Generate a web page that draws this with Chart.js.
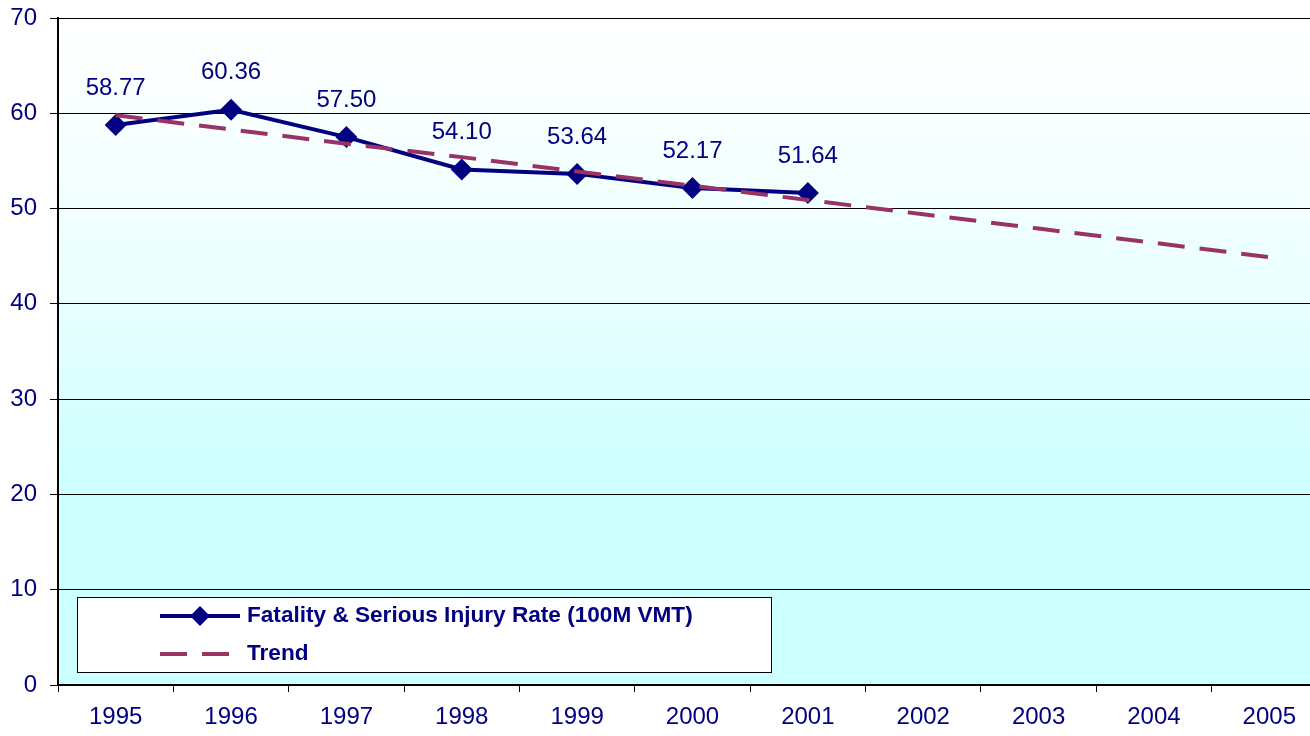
<!DOCTYPE html>
<html>
<head>
<meta charset="utf-8">
<script src="https://cdn.jsdelivr.net/npm/chart.js@4"></script>
<style>
  html, body { margin: 0; padding: 0; background: #ffffff; overflow: hidden; }
  #wrap { width: 1338px; height: 736px; }
</style>
</head>
<body>
<div id="wrap"><canvas id="grafico" width="1338" height="736"></canvas></div>
<script>
// Dados
const anos = ['1995', '1996', '1997', '1998', '1999', '2000', '2001', '2002', '2003', '2004', '2005'];
const taxa = [58.77, 60.36, 57.50, 54.10, 53.64, 52.17, 51.64, null, null, null, null];
const tendencia = [59.8, 58.3, 56.8, 55.4, 53.9, 52.4, 50.9, 49.4, 47.9, 46.4, 44.9];
const yTicks = [0, 10, 20, 30, 40, 50, 60, 70];

const NAVY = '#000080';
const TREND = '#993366';
const FONTE = '"Liberation Sans", Arial, sans-serif';

// Fundo em degradê da área do gráfico
const fundoPlugin = {
    id: 'fundo',
    beforeDraw(chart) {
        const { ctx, chartArea: a } = chart;
        const g = ctx.createLinearGradient(0, a.top, 0, a.bottom);
        g.addColorStop(0, '#ffffff');
        g.addColorStop(0.1, '#fbffff');
        g.addColorStop(0.42, '#eaffff');
        g.addColorStop(0.7, '#ccffff');
        g.addColorStop(1, '#ccffff');
        ctx.save();
        ctx.fillStyle = g;
        ctx.fillRect(a.left, a.top, a.right - a.left, a.bottom - a.top);
        ctx.restore();
    }
};

// Rótulos de valor acima dos pontos
const rotulosPlugin = {
    id: 'rotulos',
    afterDatasetsDraw(chart) {
        const ctx = chart.ctx;
        const meta = chart.getDatasetMeta(0);
        ctx.save();
        ctx.font = '24px ' + FONTE;
        ctx.fillStyle = NAVY;
        ctx.textAlign = 'center';
        ctx.textBaseline = 'middle';
        meta.data.forEach((p, i) => {
            if (taxa[i] == null) return;
            ctx.fillText(taxa[i].toFixed(2), p.x, p.y - 37);
        });
        ctx.restore();
    }
};

// Legenda desenhada dentro da área do gráfico
const legendaPlugin = {
    id: 'legenda',
    afterDraw(chart) {
        const ctx = chart.ctx;
        const ds = chart.data.datasets;
        ctx.save();
        ctx.fillStyle = '#ffffff';
        ctx.fillRect(77.5, 597.5, 694, 75);
        ctx.strokeStyle = '#000000';
        ctx.lineWidth = 1;
        ctx.strokeRect(77.5, 597.5, 694, 75);

        // item 1: linha com losango
        ctx.strokeStyle = ds[0].borderColor;
        ctx.lineWidth = ds[0].borderWidth;
        ctx.beginPath();
        ctx.moveTo(160, 616);
        ctx.lineTo(240, 616);
        ctx.stroke();
        ctx.fillStyle = ds[0].backgroundColor;
        ctx.beginPath();
        ctx.moveTo(200, 606);
        ctx.lineTo(210, 616);
        ctx.lineTo(200, 626);
        ctx.lineTo(190, 616);
        ctx.closePath();
        ctx.fill();

        // item 2: tracejado
        ctx.strokeStyle = ds[1].borderColor;
        ctx.lineWidth = ds[1].borderWidth;
        ctx.setLineDash(ds[1].borderDash);
        ctx.beginPath();
        ctx.moveTo(160, 654);
        ctx.lineTo(240, 654);
        ctx.stroke();
        ctx.setLineDash([]);

        ctx.font = 'bold 22.6px ' + FONTE;
        ctx.fillStyle = NAVY;
        ctx.textAlign = 'left';
        ctx.textBaseline = 'middle';
        ctx.fillText(ds[0].label, 247, 616);
        ctx.fillText(ds[1].label, 247, 654);
        ctx.restore();
    }
};

const ctx = document.getElementById('grafico').getContext('2d');
new Chart(ctx, {
    type: 'line',
    data: {
        labels: anos,
        datasets: [
            {
                label: 'Fatality & Serious Injury Rate (100M VMT)',
                data: taxa,
                borderColor: NAVY,
                backgroundColor: NAVY,
                borderWidth: 4,
                pointStyle: 'rectRot',
                pointRadius: 11,
                pointBorderWidth: 0,
                tension: 0,
                order: 1
            },
            {
                label: 'Trend',
                data: tendencia,
                borderColor: TREND,
                backgroundColor: TREND,
                borderWidth: 4,
                borderDash: [27, 15],
                pointRadius: 0,
                tension: 0,
                order: 0
            }
        ]
    },
    options: {
        responsive: false,
        animation: false,
        devicePixelRatio: 1,
        layout: { padding: { top: 18, left: 0, right: 0, bottom: 0 } },
        plugins: {
            legend: { display: false },
            tooltip: { enabled: false }
        },
        scales: {
            x: {
                offset: true,
                afterFit(scale) { scale.height = 51; },
                grid: {
                    offset: true,
                    drawOnChartArea: false,
                    drawTicks: true,
                    tickLength: 7,
                    color: '#000000'
                },
                border: { display: true, color: '#000000', width: 2 },
                ticks: {
                    color: NAVY,
                    font: { family: FONTE, size: 24 },
                    padding: 11,
                    maxRotation: 0
                }
            },
            y: {
                min: 0,
                max: 70,
                afterFit(scale) {
                    scale.width = 58;
                    scale.paddingTop = 0;
                },
                afterBuildTicks(scale) { scale.ticks = yTicks.map(v => ({ value: v })); },
                grid: {
                    color: '#000000',
                    lineWidth: 1,
                    tickLength: 8
                },
                border: { display: true, color: '#000000', width: 2 },
                ticks: {
                    color: NAVY,
                    font: { family: FONTE, size: 24 },
                    padding: 13
                }
            }
        }
    },
    plugins: [fundoPlugin, rotulosPlugin, legendaPlugin]
});
</script>
</body>
</html>
